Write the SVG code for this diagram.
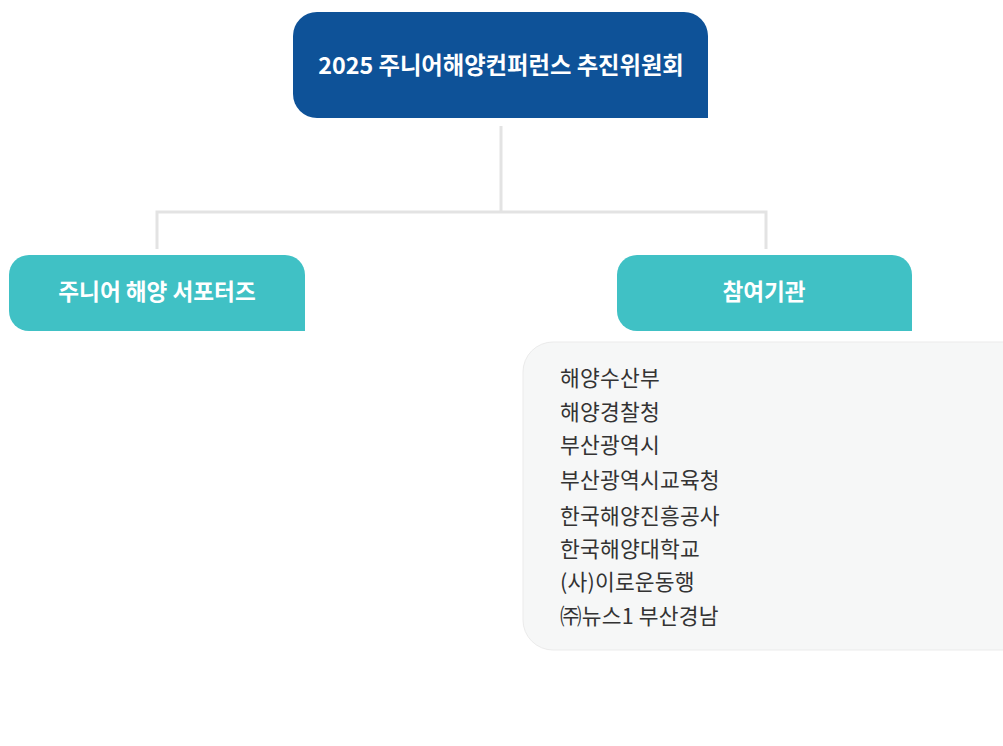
<svg xmlns="http://www.w3.org/2000/svg" width="1003" height="746" viewBox="0 0 1003 746">
<style>
text{font-family:"Noto Sans CJK KR","Noto Sans",sans-serif}
.title{fill:#fff;font-weight:700;text-anchor:middle}
.item{fill:#333;font-size:21.5px;letter-spacing:0.2px}
.conn{fill:none;stroke:#e3e3e3;stroke-width:3}
</style>
<rect width="1003" height="746" fill="#fff"/>
<g id="connectors">
<path class="conn" d="M501 126V212M157 249V212H766V249"/>
</g>
<g id="node-committee">
<path d="M317 12H684A24 24 0 0 1 708 36V118H317A24 24 0 0 1 293 94V36A24 24 0 0 1 317 12Z" fill="#0E5298"/>
<text class="title" x="501" y="74" font-size="23.3">2025 주니어해양컨퍼런스 추진위원회</text>
</g>
<g id="node-supporters">
<path d="M29 255H285A20 20 0 0 1 305 275V331H29A20 20 0 0 1 9 311V275A20 20 0 0 1 29 255Z" fill="#40C1C5"/>
<text class="title" x="157" y="300" font-size="22.6">주니어 해양 서포터즈</text>
</g>
<g id="node-partners">
<path d="M637 255H892A20 20 0 0 1 912 275V331H637A20 20 0 0 1 617 311V275A20 20 0 0 1 637 255Z" fill="#40C1C5"/>
<text class="title" x="764" y="300" font-size="22.6">참여기관</text>
</g>
<g id="partner-list">
<rect x="523" y="342" width="512" height="308" rx="30" fill="#F6F7F7" stroke="#EBEBEB" stroke-width="1"/>
<text class="item" x="560" y="386">해양수산부</text>
<text class="item" x="560" y="420">해양경찰청</text>
<text class="item" x="560" y="453">부산광역시</text>
<text class="item" x="560" y="488">부산광역시교육청</text>
<text class="item" x="560" y="524">한국해양진흥공사</text>
<text class="item" x="560" y="557">한국해양대학교</text>
<text class="item" x="560" y="590">(사)이로운동행</text>
<text class="item" x="560" y="624">㈜뉴스1 부산경남</text>
</g>
</svg>
